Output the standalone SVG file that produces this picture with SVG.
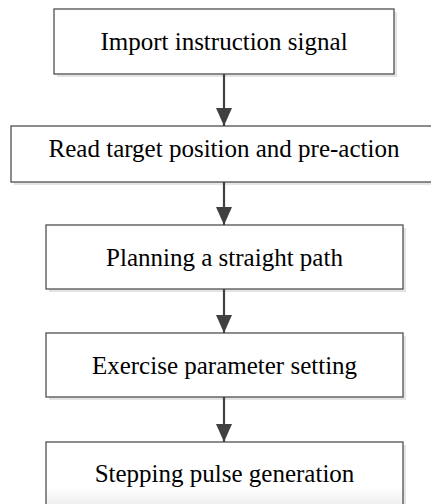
<svg xmlns="http://www.w3.org/2000/svg" width="431" height="504" viewBox="0 0 431 504">
  <style>
    .box { fill: #ffffff; stroke: #505050; stroke-width: 1.3; }
    .shadow { fill: #e4e4e4; stroke: none; }
    .label { font-family: "Liberation Serif", "Times New Roman", serif; font-size: 25px; fill: #000000; text-anchor: middle; }
    .conn { stroke: #404040; stroke-width: 2.2; fill: none; }
  </style>
  <defs>
    <marker id="arrow" markerUnits="userSpaceOnUse" markerWidth="18" markerHeight="20" refX="18" refY="8" orient="auto">
      <path d="M0,0 L18,8 L0,16 Z" fill="#404040"/>
    </marker>
    <linearGradient id="fade" x1="0" y1="0" x2="0" y2="1">
      <stop offset="0" stop-color="#ffffff"/>
      <stop offset="0.7" stop-color="#ffffff"/>
      <stop offset="1" stop-color="#eeeeee"/>
    </linearGradient>
  </defs>
  <rect width="431" height="504" fill="#ffffff"/>

  <g id="node1">
    <rect class="shadow" x="57" y="12" width="340" height="65"/>
    <rect class="box" x="54" y="9" width="340" height="65"/>
    <text class="label" x="224" y="50">Import instruction signal</text>
  </g>

  <g id="node2">
    <rect class="shadow" x="14" y="129" width="426" height="56"/>
    <rect class="box" x="11" y="126" width="426" height="56"/>
    <text class="label" x="224" y="157">Read target position and pre-action</text>
  </g>

  <g id="node3">
    <rect class="shadow" x="49" y="228" width="357" height="64"/>
    <rect class="box" x="46" y="225" width="357" height="64"/>
    <text class="label" x="224.5" y="266">Planning a straight path</text>
  </g>

  <g id="node4">
    <rect class="shadow" x="49" y="336" width="357" height="64"/>
    <rect class="box" x="46" y="333" width="357" height="64"/>
    <text class="label" x="224.5" y="374">Exercise parameter setting</text>
  </g>

  <g id="node5">
    <rect class="shadow" x="49" y="445" width="357" height="64"/>
    <rect class="box" x="46" y="442" width="357" height="64" style="fill:url(#fade)"/>
    <text class="label" x="224.5" y="482">Stepping pulse generation</text>
  </g>

  <g id="connectors">
    <line class="conn" x1="224" y1="74" x2="224" y2="126" marker-end="url(#arrow)"/>
    <line class="conn" x1="224" y1="182" x2="224" y2="225" marker-end="url(#arrow)"/>
    <line class="conn" x1="224" y1="289" x2="224" y2="333" marker-end="url(#arrow)"/>
    <line class="conn" x1="224" y1="397" x2="224" y2="442" marker-end="url(#arrow)"/>
  </g>
</svg>
